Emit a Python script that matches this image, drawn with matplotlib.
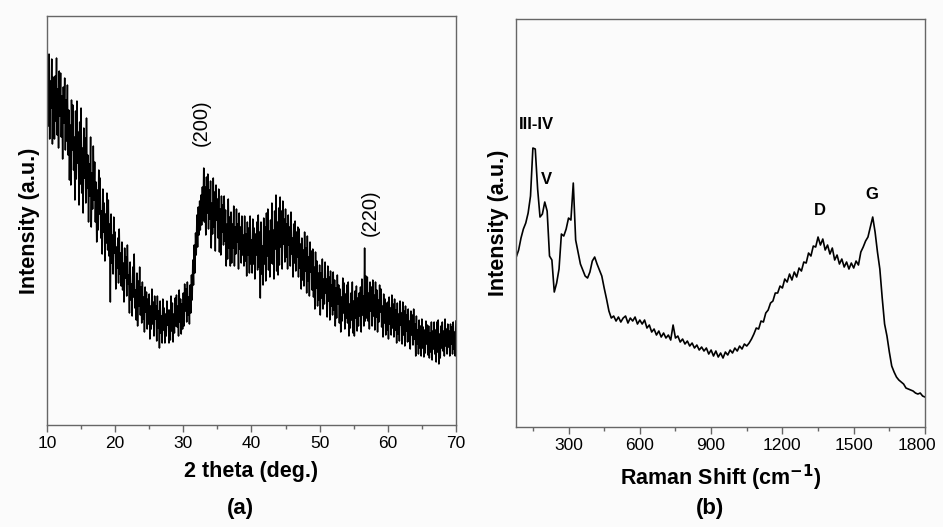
"""XRD pattern (a) and Raman spectrum (b), two panels side by side."""

import numpy as np
import matplotlib
matplotlib.use('Agg')
import matplotlib.pyplot as plt
from matplotlib.ticker import MultipleLocator
from matplotlib.transforms import ScaledTranslation

plt.rcParams['font.family'] = ['Liberation Sans', 'DejaVu Sans']

# ---- (a) XRD, 2 theta from 10 to 70 deg in 0.1 deg steps, 10 values per degree
xrd_start, xrd_step = 10.0, 0.1
xrd_counts = [
    312, 362, 299, 371, 286, 344, 317, 366, 281, 348,   # 10
    331, 286, 349, 304, 367, 290, 336, 277, 354, 309,   # 11
    352, 288, 329, 266, 338, 302, 347, 275, 325, 284,   # 12
    340, 270, 315, 245, 300, 240, 325, 275, 320, 255,   # 13
    288, 225, 314, 246, 324, 262, 293, 220, 303, 241,   # 14
    317, 232, 277, 212, 297, 247, 287, 222, 307, 237,   # 15
    270, 203, 261, 229, 288, 198, 252, 216, 279, 225,   # 16
    263, 203, 243, 183, 235, 195, 255, 211, 247, 187,   # 17
    214, 171, 236, 193, 222, 164, 211, 182, 232, 175,   # 18
    225, 169, 201, 123, 211, 162, 190, 151, 208, 172,   # 19
    193, 136, 178, 157, 187, 142, 196, 151, 172, 139,   # 20
    183, 135, 162, 123, 177, 147, 168, 129, 180, 141,   # 21
    150, 112, 163, 125, 141, 109, 158, 128, 171, 117,   # 22
    135, 105, 152, 99, 144, 119, 158, 110, 138, 102,    # 23
    143, 106, 128, 93, 138, 113, 133, 96, 126, 101,     # 24
    131, 86, 119, 96, 136, 101, 123, 89, 129, 106,      # 25
    119, 84, 129, 97, 114, 77, 124, 92, 109, 82,        # 26
    126, 95, 117, 82, 111, 89, 124, 100, 115, 82,       # 27
    115, 85, 129, 94, 122, 83, 111, 92, 127, 99,        # 28
    130, 98, 119, 89, 135, 103, 126, 91, 121, 96,       # 29
    132, 99, 141, 114, 136, 103, 143, 110, 128, 101,    # 30
    140, 112, 150, 125, 165, 140, 180, 152, 192, 170,   # 31
    210, 178, 218, 190, 224, 195, 230, 200, 238, 205,   # 32
    257, 203, 238, 190, 248, 212, 251, 196, 235, 206,   # 33
    244, 177, 222, 191, 247, 198, 233, 174, 240, 205,   # 34
    226, 187, 236, 173, 216, 170, 229, 193, 220, 180,   # 35
    229, 184, 215, 159, 201, 166, 226, 177, 208, 159,   # 36
    213, 162, 201, 177, 219, 159, 198, 171, 216, 183,   # 37
    201, 156, 212, 176, 198, 162, 209, 170, 190, 159,   # 38
    209, 164, 191, 149, 203, 170, 197, 152, 209, 161,   # 39
    185, 152, 206, 161, 197, 146, 191, 170, 203, 155,   # 40
    210, 158, 193, 127, 203, 151, 179, 140, 207, 161,   # 41
    198, 144, 212, 169, 216, 155, 194, 148, 205, 162,   # 42
    222, 161, 195, 146, 214, 176, 230, 154, 203, 150,   # 43
    217, 160, 228, 178, 214, 156, 224, 181, 206, 163,   # 44
    216, 168, 201, 156, 210, 180, 198, 159, 213, 171,   # 45
    187, 148, 201, 162, 204, 154, 193, 168, 198, 148,   # 46
    196, 157, 181, 136, 187, 145, 175, 139, 193, 154,   # 47
    177, 132, 189, 144, 168, 129, 183, 153, 174, 135,   # 48
    176, 128, 158, 116, 173, 137, 164, 119, 152, 125,   # 49
    160, 110, 152, 127, 166, 116, 146, 121, 163, 132,   # 50
    146, 108, 159, 124, 148, 105, 154, 119, 140, 110,   # 51
    153, 115, 145, 99, 137, 107, 150, 121, 140, 102,    # 52
    136, 93, 128, 104, 147, 112, 142, 96, 131, 107,     # 53
    140, 102, 143, 89, 121, 97, 132, 105, 143, 92,      # 54
    124, 89, 134, 107, 139, 94, 127, 99, 132, 109,      # 55
    138, 93, 146, 110, 129, 99, 177, 104, 149, 107,     # 56
    148, 104, 132, 96, 143, 114, 138, 99, 145, 109,     # 57
    130, 95, 143, 108, 135, 93, 125, 103, 140, 113,     # 58
    136, 98, 119, 88, 131, 102, 126, 90, 122, 95,       # 59
    123, 86, 128, 101, 117, 90, 130, 97, 121, 88,       # 60
    126, 95, 115, 82, 122, 91, 111, 84, 124, 100,       # 61
    112, 81, 123, 90, 114, 79, 119, 94, 110, 83,        # 62
    116, 84, 104, 76, 114, 90, 110, 80, 116, 86,        # 63
    101, 69, 109, 81, 95, 71, 105, 77, 99, 69,          # 64
    106, 77, 98, 68, 95, 72, 104, 81, 100, 70,          # 65
    99, 67, 92, 73, 103, 65, 94, 76, 103, 71,           # 66
    95, 63, 103, 73, 105, 61, 91, 67, 99, 77,           # 67
    103, 74, 94, 69, 106, 79, 96, 71, 101, 78,          # 68
    94, 69, 101, 81, 98, 71, 103, 76, 93, 69,           # 69
    104,                                                # 70
]
xrd_peaks = ['(200)', '(220)']
xrd_peak_pos = [(32.6, 302), (57.5, 212)]

# ---- (b) Raman, 80 to 1800 cm-1 in 10 cm-1 steps
raman_start, raman_step = 80, 10
raman_counts = [
    167, 174, 186, 195, 201, 211, 228, 276, 275, 235,   # 80-170
    207, 210, 222, 213, 168, 164, 132, 141, 155, 190,   # 180-270
    188, 195, 206, 204, 241, 184, 172, 160, 154, 148,   # 280-370
    146, 152, 163, 167, 160, 154, 148, 136, 125, 113,   # 380-470
    106, 108, 103, 107, 102, 106, 108, 101, 106, 103,   # 480-570
    107, 100, 104, 100, 104, 96, 99, 92, 95, 89,        # 580-670
    93, 87, 91, 86, 89, 84, 99, 86, 88, 82,             # 680-770
    85, 80, 83, 78, 81, 76, 79, 74, 77, 73,             # 780-870
    76, 70, 74, 68, 73, 67, 71, 66, 72, 69,             # 880-970
    74, 71, 76, 73, 78, 75, 80, 78, 81, 85,             # 980-1070
    90, 96, 95, 103, 102, 111, 114, 121, 123, 131,      # 1080-1170
    131, 138, 136, 145, 142, 150, 144, 152, 147, 156,   # 1180-1270
    153, 162, 161, 171, 168, 178, 177, 187, 179, 185,   # 1280-1370
    174, 179, 170, 176, 164, 169, 160, 165, 157, 162,   # 1380-1470
    155, 161, 156, 163, 159, 172, 177, 183, 187, 197,   # 1480-1570
    207, 192, 172, 155, 126, 100, 88, 72, 58, 52,       # 1580-1670
    47, 44, 42, 40, 36, 35, 34, 33, 31, 30,             # 1680-1770
    31, 28, 27,                                         # 1780-1800
]
raman_ticks = [300, 600, 900, 1200, 1500, 1800]
raman_bands = ['III-IV', 'V', 'D', 'G']
raman_band_pos = [(163, 300), (209, 245), (1356, 214), (1578, 230)]

spine_color = '#666666'


def style_axes(ax):
    for sp in ax.spines.values():
        sp.set_color(spine_color)
        sp.set_linewidth(1.0)
    ax.tick_params(axis='x', which='major', direction='out', length=5,
                   width=1.0, color=spine_color, labelsize=12.5, pad=3)
    ax.tick_params(axis='x', which='minor', direction='out', length=3,
                   width=1.0, color=spine_color)
    ax.set_yticks([])


fig = plt.figure(figsize=(9.43, 5.27), dpi=100, facecolor='#fbfbfb')

# ---------------- (a)
ax1 = fig.add_axes([0.0498, 0.1935, 0.4337, 0.7761], facecolor='#fbfbfb')
xrd_theta = xrd_start + xrd_step * np.arange(len(xrd_counts))
ax1.plot(xrd_theta, xrd_counts, color='black', lw=1.1)
ax1.set_xlim(10, 70)
ax1.set_ylim(0, 409)
ax1.xaxis.set_major_locator(MultipleLocator(10))
ax1.xaxis.set_minor_locator(MultipleLocator(5))
style_axes(ax1)
ax1.set_xlabel('2 theta (deg.)', fontsize=15.5, fontweight='bold', labelpad=7)
ax1.set_ylabel('Intensity (a.u.)', fontsize=15.5, fontweight='bold', labelpad=5)
for lab, (xp, yp) in zip(xrd_peaks, xrd_peak_pos):
    ax1.text(xp, yp, lab, rotation=90, ha='center', va='center', fontsize=14.5)
fig.text(0.255, 0.036, '(a)', ha='center', va='center', fontsize=16,
         fontweight='bold')

# ---------------- (b)
ax2 = fig.add_axes([0.5472, 0.1897, 0.4337, 0.7742], facecolor='#fbfbfb')
raman_shift = raman_start + raman_step * np.arange(len(raman_counts))
ax2.plot(raman_shift, raman_counts, color='black', lw=1.2)
ax2.set_xlim(79, 1800)
ax2.set_ylim(-3, 405)
ax2.xaxis.set_minor_locator(MultipleLocator(150))
ax2.set_xticks(raman_ticks)
style_axes(ax2)
# keep the last tick label inside the figure
last = ax2.get_xticklabels()[-1]
last.set_transform(last.get_transform()
                   + ScaledTranslation(-6 / 72, 0, fig.dpi_scale_trans))
ax2.set_xlabel('Raman Shift (cm$^{\\mathbf{-1}}$)', fontsize=15.5,
               fontweight='bold', labelpad=7)
ax2.set_ylabel('Intensity (a.u.)', fontsize=15.5, fontweight='bold', labelpad=5)
for lab, (xp, yp) in zip(raman_bands, raman_band_pos):
    ax2.text(xp, yp, lab, ha='center', va='center', fontsize=12,
             fontweight='bold')
fig.text(0.753, 0.036, '(b)', ha='center', va='center', fontsize=16,
         fontweight='bold')

fig.savefig('out.png', dpi=100, facecolor=fig.get_facecolor())
